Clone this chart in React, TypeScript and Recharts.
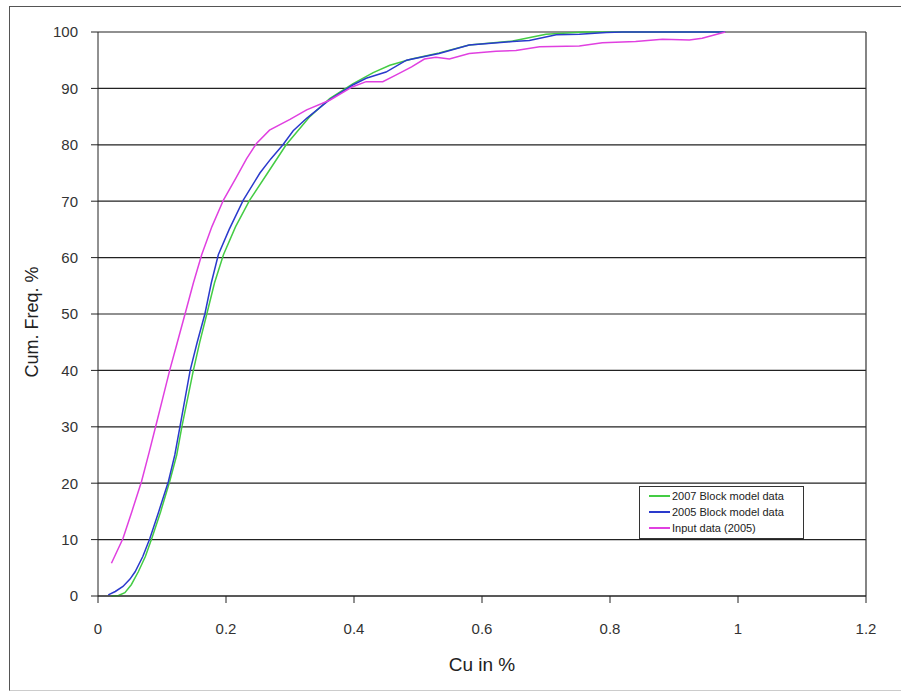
import React from "react"
import {
  LineChart,
  Line,
  XAxis,
  YAxis,
  CartesianGrid,
  ReferenceLine,
  Label,
} from "recharts"

// Cu grade (%) vs cumulative frequency (%)
const cu2007 = [0.021, 0.032, 0.042, 0.052, 0.063, 0.074, 0.084, 0.098, 0.112, 0.123, 0.131, 0.14, 0.149, 0.159, 0.17, 0.182, 0.196, 0.215, 0.237, 0.265, 0.294, 0.331, 0.362, 0.398, 0.43, 0.456, 0.49, 0.533, 0.58, 0.648, 0.7, 0.76, 0.98]
const freq2007 = [0, 0.1, 0.6, 2, 4.3, 7, 10.2, 15, 20.3, 25, 30, 35, 40, 45, 50, 55.5, 60.5, 65.5, 70.2, 75, 80, 85, 88.2, 90.8, 92.8, 94.1, 95.2, 96.3, 97.7, 98.4, 99.6, 100, 100]

const cu2005 = [0.016, 0.027, 0.039, 0.05, 0.058, 0.07, 0.081, 0.095, 0.11, 0.12, 0.128, 0.136, 0.144, 0.155, 0.167, 0.177, 0.188, 0.205, 0.227, 0.253, 0.27, 0.289, 0.305, 0.326, 0.362, 0.398, 0.419, 0.45, 0.482, 0.533, 0.58, 0.648, 0.674, 0.716, 0.752, 0.794, 0.82, 0.98]
const freq2005 = [0.2, 0.8, 1.7, 3, 4.3, 7, 10.2, 15, 20.3, 25, 30, 35, 40, 45, 50, 55.5, 60.5, 65, 70.2, 75, 77.5, 80, 82.5, 84.7, 88, 90.6, 91.8, 92.9, 95, 96.2, 97.7, 98.3, 98.5, 99.5, 99.6, 99.9, 100, 100]

const cuInput = [0.021, 0.039, 0.053, 0.068, 0.08, 0.09, 0.101, 0.112, 0.124, 0.136, 0.149, 0.162, 0.178, 0.196, 0.215, 0.232, 0.248, 0.268, 0.3, 0.326, 0.362, 0.398, 0.419, 0.445, 0.466, 0.49, 0.51, 0.528, 0.549, 0.58, 0.622, 0.653, 0.69, 0.752, 0.788, 0.84, 0.882, 0.924, 0.944, 0.98]
const freqInput = [5.8, 10.2, 15, 20.3, 25.5, 30, 35, 40, 45, 50, 55.5, 60.5, 65.5, 70.2, 74, 77.5, 80.3, 82.6, 84.5, 86.2, 87.9, 90.3, 91.2, 91.2, 92.4, 93.8, 95.2, 95.5, 95.2, 96.2, 96.6, 96.7, 97.4, 97.5, 98.1, 98.3, 98.7, 98.6, 98.9, 100]

const xTicks = [0, 0.2, 0.4, 0.6, 0.8, 1, 1.2]
const yTicks = [0, 10, 20, 30, 40, 50, 60, 70, 80, 90, 100]

const toPoints = (xs: number[], ys: number[]) => xs.map((x, i) => ({ x, y: ys[i] }))

const series = [
  { name: "2007 Block model data", color: "#44cc44", data: toPoints(cu2007, freq2007) },
  { name: "2005 Block model data", color: "#2a3acc", data: toPoints(cu2005, freq2005) },
  { name: "Input data (2005)", color: "#e040e0", data: toPoints(cuInput, freqInput) },
]

const font = "'Liberation Sans', Arial, sans-serif"

function LegendBox() {
  return (
    <div
      style={{
        position: "absolute",
        left: 639,
        top: 486,
        width: 146,
        border: "1px solid #333",
        background: "#fff",
        padding: "1px 8px 2px 9px",
        fontFamily: font,
        fontSize: 11,
        color: "#222",
        lineHeight: "16px",
      }}
    >
      {series.map((s) => (
        <div key={s.name} style={{ display: "flex", alignItems: "center" }}>
          <span style={{ flexShrink: 0, width: 21, height: 1.5, background: s.color, marginRight: 2 }} />
          <span style={{ whiteSpace: "nowrap" }}>{s.name}</span>
        </div>
      ))}
    </div>
  )
}

function YTitle(props: any) {
  const vb = props.viewBox || {}
  const cx = vb.x + 32
  const cy = vb.y + vb.height / 2 + 8
  return (
    <text
      x={cx}
      y={cy}
      transform={`rotate(-90, ${cx}, ${cy})`}
      textAnchor="middle"
      dominantBaseline="central"
      fontFamily={font}
      fontSize={18}
      fill="#222"
    >
      Cum. Freq. %
    </text>
  )
}

export default function App() {
  return (
    <div style={{ position: "absolute", left: 0, top: 0, width: 901, height: 691, background: "#fff", overflow: "hidden" }}>
      <div
        style={{
          position: "absolute",
          left: 9,
          top: 6,
          width: 910,
          height: 683,
          borderLeft: "1.5px solid #555",
          borderTop: "1.5px solid #555",
          borderBottom: "1px solid #ccc",
        }}
      />
      <LineChart
        width={901}
        height={691}
        margin={{ top: 32, right: 35, bottom: 20, left: 0 }}
        style={{ position: "absolute", left: 0, top: 0 }}
      >
        <CartesianGrid vertical={false} stroke="#222" strokeWidth={1.2} />
        <XAxis
          type="number"
          dataKey="x"
          domain={[0, 1.2]}
          ticks={xTicks}
          allowDuplicatedCategory={false}
          height={75}
          tickSize={7}
          tickMargin={20}
          stroke="#222"
          tick={{ fill: "#333", fontFamily: font, fontSize: 15 }}
        >
          <Label value="Cu in %" position="insideBottom" offset={0} fill="#222" fontFamily={font} fontSize={19} />
        </XAxis>
        <YAxis
          type="number"
          dataKey="y"
          domain={[0, 100]}
          ticks={yTicks}
          width={98}
          tickSize={7}
          tickMargin={13}
          stroke="#222"
          tick={{ fill: "#333", fontFamily: font, fontSize: 15 }}
        >
          <Label content={<YTitle />} />
        </YAxis>
        <ReferenceLine x={1.2} stroke="#333" strokeWidth={1.2} />
        {series.map((s) => (
          <Line
            key={s.name}
            data={s.data}
            dataKey="y"
            name={s.name}
            type="linear"
            stroke={s.color}
            strokeWidth={1.5}
            dot={false}
            isAnimationActive={false}
          />
        ))}
      </LineChart>
      <LegendBox />
    </div>
  )
}
